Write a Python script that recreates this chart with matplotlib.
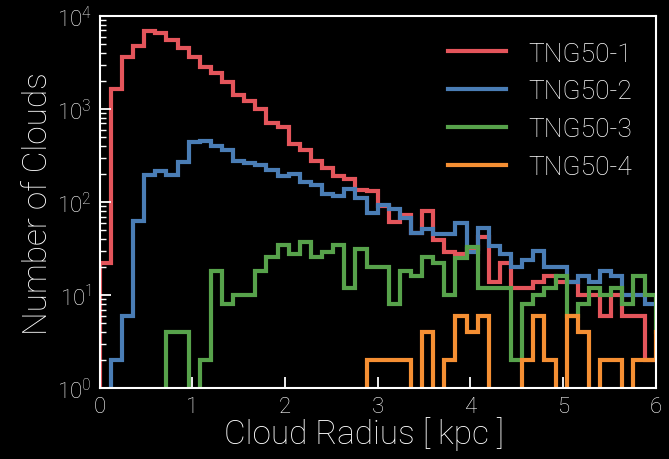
import numpy as np
import matplotlib
matplotlib.use('Agg')
import matplotlib.pyplot as plt
from matplotlib.ticker import FuncFormatter, LogLocator, NullFormatter

# 0.12 kpc bins, last one runs past the axis limit
bin_width = 0.12
edges = np.arange(52) * bin_width

tng50_1 = [22, 1650, 3660, 4750, 6840, 6580, 5470, 4510, 3640, 2820,
           2420, 1960, 1415, 1230, 1000, 700, 648, 425, 362, 278,
           232, 189, 177, 135, 130, 91, 61, 73, 47, 81,
           39, 29, 28, 31, 42, 14, 22, 12, 12, 14,
           16, 14, 14, 10, 10, 6, 10, 6, 6, 2,
           2]
tng50_2 = [0, 2, 6, 63, 195, 217, 194, 267, 438, 453,
           403, 360, 278, 265, 250, 222, 192, 198, 163, 153,
           122, 117, 138, 112, 77, 94, 84, 67, 46, 52,
           45, 45, 59, 29, 53, 34, 28, 20, 24, 30,
           20, 20, 14, 16, 14, 18, 16, 10, 10, 8,
           8]
tng50_3 = [0, 0, 0, 0, 0, 0, 4, 4, 0, 2,
           18, 8, 10, 10, 18, 26, 35, 28, 37, 26,
           29, 35, 12, 31, 20, 20, 8, 18, 16, 26,
           22, 10, 25, 33, 12, 12, 12, 2, 8, 10,
           12, 16, 6, 8, 12, 10, 12, 8, 16, 10,
           4]
tng50_4 = [0, 0, 0, 0, 0, 0, 0, 0, 0, 0,
           0, 0, 0, 0, 0, 0, 0, 0, 0, 0,
           0, 0, 0, 0, 2, 2, 2, 2, 0, 4,
           0, 2, 6, 4, 6, 0, 0, 0, 2, 6,
           2, 0, 6, 4, 0, 2, 2, 0, 2, 2,
           4]

labels = ['TNG50-1', 'TNG50-2', 'TNG50-3', 'TNG50-4']
colors = ['#e4555b', '#4a7db5', '#57a24b', '#f58f33']

plt.rcParams['font.family'] = ['Roboto', 'DejaVu Sans']
plt.rcParams['font.weight'] = 'light'
plt.rcParams['axes.labelweight'] = 'light'

fig = plt.figure(figsize=(6.69, 4.60), dpi=100, facecolor='black')
ax = fig.add_axes([0.149, 0.154, 0.831, 0.809])
ax.set_facecolor('black')

for counts, label, color in zip([tng50_1, tng50_2, tng50_3, tng50_4], labels, colors):
    ax.stairs(counts, edges, baseline=0, color=color, lw=3, label=label)

ax.set_yscale('log', nonpositive='clip')
ax.set_xlim(0, 6)
ax.set_ylim(1, 1e4)

ax.yaxis.set_major_locator(LogLocator(base=10, numticks=10))
ax.yaxis.set_minor_locator(LogLocator(base=10, subs=np.arange(2, 10), numticks=10))
ax.yaxis.set_major_formatter(FuncFormatter(lambda v, p: r'$\mathregular{10^{%d}}$' % round(np.log10(v))))
ax.yaxis.set_minor_formatter(NullFormatter())

for s in ax.spines.values():
    s.set_color('white')
    s.set_linewidth(1.5)
ax.tick_params(axis='both', which='major', direction='in', length=8, width=1.3,
               colors='white', labelsize=16, pad=6)
ax.tick_params(axis='y', which='minor', direction='in', length=4, width=1, colors='white')
ax.tick_params(axis='x', which='minor', bottom=False)

ax.set_xlabel('Cloud Radius [ kpc ]', color='white', fontsize=24, labelpad=0)
ax.xaxis.set_label_coords(0.475, -0.075)
ax.set_ylabel('Number of Clouds', color='white', fontsize=24, labelpad=2)

leg = ax.legend(loc='upper right', frameon=False, fontsize=19, handlelength=2.2,
                handletextpad=0.85, labelspacing=0.52, borderaxespad=0.5,
                bbox_to_anchor=(1.0, 0.995))
for t in leg.get_texts():
    t.set_color('white')

fig.savefig('out.png', dpi=100, facecolor='black')
